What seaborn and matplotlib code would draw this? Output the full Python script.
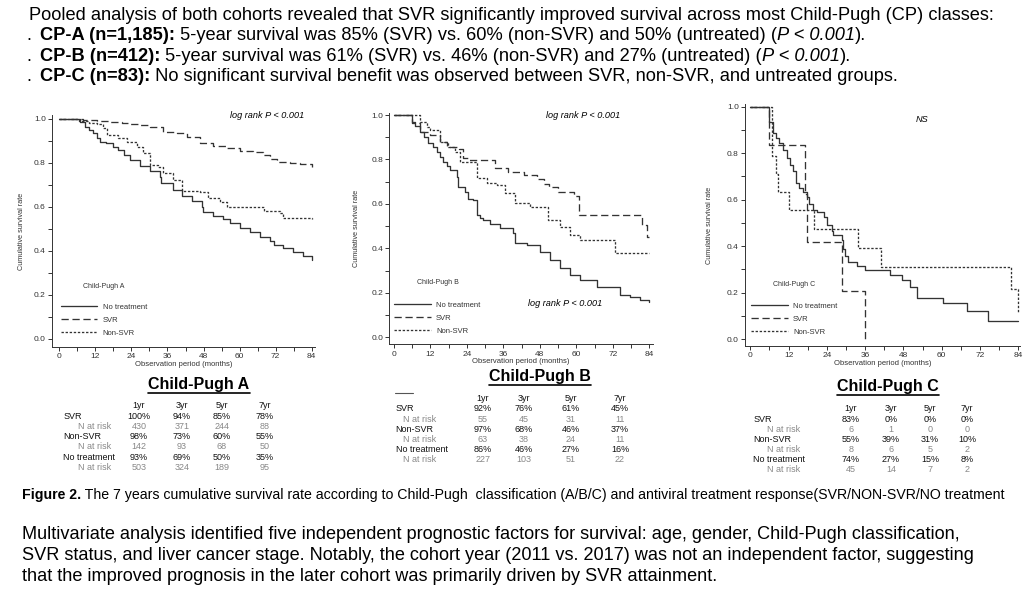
import numpy as np
import pandas as pd
import seaborn as sns
import matplotlib.pyplot as plt
from matplotlib.lines import Line2D
from matplotlib.ticker import MultipleLocator

# Kaplan-Meier step points (time in months, survival)
a_none_t = [0, 6.9, 8.5, 10, 11.3, 12.4, 13.5, 15.7, 18, 19.6, 21.5, 23.5, 26.9, 30.2, 33.5, 34,
            38, 40.7, 44, 47.4, 47.8, 51.3, 54.6, 56.8, 60.2, 63.5, 66.8, 70.1, 71.3, 74.6, 77.9, 81.2, 84]
a_none_s = [1.0, 0.985, 0.965, 0.95, 0.935, 0.912, 0.897, 0.889, 0.874, 0.859, 0.835, 0.813, 0.786, 0.763,
            0.737, 0.707, 0.677, 0.649, 0.627, 0.601, 0.578, 0.558, 0.545, 0.525, 0.504, 0.484, 0.464,
            0.446, 0.426, 0.411, 0.396, 0.376, 0.358]
a_svr_t = [0, 8, 12.4, 17, 21, 23.5, 27, 30.2, 34.6, 39.1, 42.4, 46.8, 51.3, 55.7, 60.2, 64.6, 67.9,
           70.1, 72.4, 76.8, 80.1, 84]
a_svr_s = [1.0, 0.995, 0.99, 0.985, 0.98, 0.977, 0.972, 0.965, 0.942, 0.935, 0.92, 0.892, 0.877, 0.866,
           0.856, 0.851, 0.836, 0.816, 0.806, 0.801, 0.795, 0.783]
a_non_t = [0, 6.5, 10, 12.4, 14.7, 15.8, 19.6, 22.4, 25.8, 28, 30.2, 33, 34.6, 38, 40.7, 46.8, 49.6,
           53.5, 55.7, 64.6, 68, 73.5, 74.6, 84]
a_non_s = [1.0, 0.99, 0.98, 0.975, 0.957, 0.927, 0.915, 0.897, 0.874, 0.847, 0.791, 0.783, 0.756, 0.722,
           0.674, 0.669, 0.639, 0.624, 0.601, 0.598, 0.581, 0.571, 0.548, 0.545]

b_none_t = [0, 5.8, 7, 8.6, 10, 11.3, 12.7, 14, 15, 16.2, 17.3, 18.4, 20.6, 21.2, 23.4, 24.5, 26.1,
            27.2, 28.3, 29.4, 31.6, 34.9, 39.3, 39.8, 43.6, 48, 51.3, 54.6, 57.9, 61.2, 66.7, 71.5,
            74.3, 77.6, 80.9, 84]
b_none_s = [1.0, 0.97, 0.95, 0.925, 0.9, 0.873, 0.855, 0.835, 0.81, 0.79, 0.77, 0.753, 0.72, 0.675,
            0.655, 0.622, 0.618, 0.55, 0.535, 0.528, 0.51, 0.49, 0.468, 0.423, 0.415, 0.385, 0.348,
            0.31, 0.28, 0.258, 0.228, 0.225, 0.19, 0.18, 0.166, 0.157]
b_svr_t = [0, 5.8, 8.6, 11.8, 15.1, 17.3, 21.5, 22.8, 24.5, 33.2, 37.6, 42.7, 47.1, 49.3, 51, 53.8,
           59.2, 60.9, 81.5, 83.1, 84]
b_svr_s = [1.0, 0.963, 0.925, 0.91, 0.88, 0.858, 0.846, 0.805, 0.798, 0.76, 0.745, 0.73, 0.71, 0.69,
           0.675, 0.655, 0.635, 0.55, 0.505, 0.453, 0.453]
b_non_t = [0, 8.6, 10.7, 11.8, 15.1, 17.9, 20.1, 21.7, 27.2, 30.5, 33.8, 36.5, 39.8, 44.7, 50.8, 54.6,
           57.9, 61.2, 72.7, 84]
b_non_s = [1.0, 0.97, 0.945, 0.933, 0.88, 0.858, 0.835, 0.79, 0.715, 0.693, 0.685, 0.648, 0.606, 0.588,
           0.528, 0.498, 0.46, 0.438, 0.378, 0.378]

c_none_t = [0, 6.0, 7.0, 8.0, 9.1, 10.1, 11.4, 12.4, 13.5, 14.3, 15.4, 16.6, 17.7, 18.5, 19.7, 20.8,
            23.1, 24.1, 25.5, 26.0, 28.6, 29.2, 29.7, 30.7, 33.3, 35.9, 43.8, 47.4, 50.0, 52.1, 60.5,
            67.8, 74.6, 84]
c_none_s = [1.0, 0.935, 0.888, 0.866, 0.842, 0.813, 0.778, 0.749, 0.723, 0.670, 0.649, 0.631, 0.613,
            0.580, 0.556, 0.546, 0.524, 0.489, 0.463, 0.449, 0.427, 0.389, 0.356, 0.330, 0.316, 0.297,
            0.275, 0.254, 0.225, 0.175, 0.153, 0.121, 0.078, 0.078]
c_svr_t = [0, 6.0, 17.1, 17.9, 28.6, 36]
c_svr_s = [1.0, 0.833, 0.625, 0.417, 0.208, 0.0]
c_non_t = [0, 6.8, 8.0, 8.8, 12.2, 20.0, 33.9, 40.9, 81.7, 83.8, 84]
c_non_s = [1.0, 0.789, 0.710, 0.634, 0.555, 0.473, 0.393, 0.311, 0.215, 0.110, 0.110]

# tables under the panels
years = ['1yr', '3yr', '5yr', '7yr']
groups = ['SVR', 'Non-SVR', 'No treatment']
a_pct = [[100, 94, 85, 78], [98, 73, 60, 55], [93, 69, 50, 35]]
a_risk = [[430, 371, 244, 88], [142, 93, 68, 50], [503, 324, 189, 95]]
b_pct = [[92, 76, 61, 45], [97, 68, 46, 37], [86, 46, 27, 16]]
b_risk = [[55, 45, 31, 11], [63, 38, 24, 11], [227, 103, 51, 22]]
c_pct = [[83, 0, 0, 0], [55, 39, 31, 10], [74, 27, 15, 8]]
c_risk = [[6, 1, 0, 0], [8, 6, 5, 2], [45, 14, 7, 2]]

sns.set_theme(style='ticks')
plt.rcParams['font.family'] = ['Liberation Sans', 'DejaVu Sans']

W, H = 1029, 599
fig = plt.figure(figsize=(W / 100, H / 100), dpi=100)
renderer = fig.canvas.get_renderer()


def ftext(x, y, s, **kw):
    return fig.text(x / W, 1 - y / H, s, **kw)


def runs(x, y, parts, size):
    # text pieces with mixed weight / style on one line, y is the visual middle
    yb = y + 0.26 * size * 100 / 72
    for s, weight, style in parts:
        t = ftext(x, yb, s, fontsize=size, fontweight=weight, fontstyle=style,
                  va='baseline', ha='left', color='black')
        x += t.get_window_extent(renderer).width


ink = '#333333'
line_styles = {'No treatment': '-', 'SVR': (0, (5.5, 2.8)), 'Non-SVR': (0, (1.8, 1.3))}

panels = [
    dict(box=(52, 115, 315, 347), x0=59.3, x84=311.7, y1=119, y0=338.7, name='Child-Pugh A',
         curves=[('No treatment', a_none_t, a_none_s), ('SVR', a_svr_t, a_svr_s), ('Non-SVR', a_non_t, a_non_s)],
         cp=(82.7, 286), leg=(60.7, 303.5), ylab=25, notes=[('log rank P < 0.001', 266.7, 115)]),
    dict(box=(389.3, 112.7, 653, 344.3), x0=394, x84=649.3, y1=115, y0=337.3, name='Child-Pugh B',
         curves=[('No treatment', b_none_t, b_none_s), ('SVR', b_svr_t, b_svr_s), ('Non-SVR', b_non_t, b_non_s)],
         cp=(417.3, 282.7), leg=(394, 301.5), ylab=360,
         notes=[('log rank P < 0.001', 583, 115), ('log rank P < 0.001', 565, 304)]),
    dict(box=(745, 104.3, 1020, 346), x0=750.3, x84=1018.3, y1=106.7, y0=339, name='Child-Pugh C',
         curves=[('No treatment', c_none_t, c_none_s), ('SVR', c_svr_t, c_svr_s), ('Non-SVR', c_non_t, c_non_s)],
         cp=(773.3, 284.3), leg=(751, 302.5), ylab=713, notes=[('NS', 922, 119)]),
]

for p in panels:
    l, t, r, b = p['box']
    ax = fig.add_axes([l / W, 1 - b / H, (r - l) / W, (b - t) / H])
    kx = (p['x84'] - p['x0']) / 84
    ky = p['y0'] - p['y1']
    ax.set_xlim((l - p['x0']) / kx, 84 + (r - p['x84']) / kx)
    ax.set_ylim((p['y0'] - b) / ky, 1 + (p['y1'] - t) / ky)
    for label, ts, ss in p['curves']:
        sns.lineplot(x=ts, y=ss, ax=ax, color=ink, lw=0.95, linestyle=line_styles[label],
                     drawstyle='steps-post', estimator=None, sort=False, label=label)
    ax.xaxis.set_major_locator(MultipleLocator(12))
    ax.xaxis.set_minor_locator(MultipleLocator(6))
    ax.yaxis.set_major_locator(MultipleLocator(0.2))
    ax.yaxis.set_minor_locator(MultipleLocator(0.1))
    ax.yaxis.set_major_formatter(lambda v, pos: f'{v:.1f}')
    ax.tick_params(which='both', length=3, width=0.7, color=ink, labelsize=6, labelcolor=ink, pad=1.5)
    for side in ['top', 'right']:
        ax.spines[side].set_visible(False)
    for side in ['left', 'bottom']:
        ax.spines[side].set_linewidth(0.7)
        ax.spines[side].set_color(ink)
    ax.set_facecolor('none')
    ax.set_xlabel('Observation period (months)', fontsize=5.5, color=ink, labelpad=0.5)
    ax.set_ylabel('Cumulative survival rate', fontsize=5.2, color=ink)
    ax.yaxis.set_label_coords((p['ylab'] - l) / (r - l), 0.5)
    ax.text((p['cp'][0] - l) / (r - l), (b - p['cp'][1]) / (b - t), p['name'], transform=ax.transAxes,
            fontsize=5, color=ink, ha='left', va='center')
    ax.legend(loc='upper left', bbox_to_anchor=((p['leg'][0] - l) / (r - l), (b - p['leg'][1]) / (b - t)),
              frameon=False, fontsize=5.5, handlelength=4.8, handletextpad=0.7, labelspacing=0.75,
              borderaxespad=0, borderpad=0, labelcolor=ink)
    for s, nx, ny in p['notes']:
        ftext(nx, ny, s, fontsize=6.6, style='italic', color='black', ha='center', va='center')

# survival tables
tables = [
    dict(title=('Child-Pugh A', 199, 385), head=405, rows=[416.7, 426.7, 436.7, 446.7, 457.3, 467.3],
         cols=[139, 182, 222, 265], lab=63.3, risk_lab=78.3, pct=a_pct, risk=a_risk),
    dict(title=('Child-Pugh B', 540, 376.7), head=398.3, rows=[408.3, 419, 429, 439, 449.3, 460],
         cols=[483, 524, 571, 620], lab=395.7, risk_lab=403.3, pct=b_pct, risk=b_risk),
    dict(title=('Child-Pugh C', 888.3, 386.7), head=408.3, rows=[419.3, 429.3, 439.3, 449.3, 459.3, 469.3],
         cols=[851, 891, 930, 967], lab=753.3, risk_lab=766.7, pct=c_pct, risk=c_risk),
]
for tb in tables:
    name, tx, ty = tb['title']
    tt = ftext(tx, ty, name, fontsize=11.5, fontweight='bold', ha='center', va='center', color='black')
    bb = tt.get_window_extent(renderer)
    uy = bb.y0 - 0.5
    fig.add_artist(Line2D([bb.x0 / W, bb.x1 / W], [uy / H, uy / H], color='black', lw=1.2))
    for yr, cx in zip(years, tb['cols']):
        ftext(cx, tb['head'], yr, fontsize=6.5, ha='center', va='center', color='#111111')
    for i, g in enumerate(groups):
        ftext(tb['lab'], tb['rows'][2 * i], g, fontsize=6.5, ha='left', va='center', color='#111111')
        ftext(tb['risk_lab'], tb['rows'][2 * i + 1], 'N at risk', fontsize=6.5, ha='left', va='center',
              color='#888888')
        for j, cx in enumerate(tb['cols']):
            ftext(cx, tb['rows'][2 * i], f"{tb['pct'][i][j]}%", fontsize=6.5, ha='center', va='center',
                  color='#111111')
            ftext(cx, tb['rows'][2 * i + 1], str(tb['risk'][i][j]), fontsize=6.5, ha='center',
                  va='center', color='#888888')

fig.add_artist(Line2D([395 / W, 413 / W], [1 - 393 / H, 1 - 393 / H], color='#555555', lw=0.8))

# text above and below the figure
size = 13.15
runs(29, 15, [('Pooled analysis of both cohorts revealed that SVR significantly improved survival '
               'across most Child-Pugh (CP) classes:', 'normal', 'normal')], size)
bullets = [
    [('CP-A (n=1,185):', 'bold', 'normal'),
     (' 5-year survival was 85% (SVR) vs. 60% (non-SVR) and 50% (untreated) (', 'normal', 'normal'),
     ('P < 0.001', 'normal', 'italic'), (').', 'normal', 'normal')],
    [('CP-B (n=412):', 'bold', 'normal'),
     (' 5-year survival was 61% (SVR) vs. 46% (non-SVR) and 27% (untreated) (', 'normal', 'normal'),
     ('P < 0.001', 'normal', 'italic'), (').', 'normal', 'normal')],
    [('CP-C (n=83):', 'bold', 'normal'),
     (' No significant survival benefit was observed between SVR, non-SVR, and untreated groups.',
      'normal', 'normal')],
]
for k, parts in enumerate(bullets):
    y = 35.5 + 20.5 * k
    runs(26, y, [('.', 'normal', 'normal')], size)
    runs(40, y, parts, size)

runs(22, 495, [('Figure 2.', 'bold', 'normal'),
               (' The 7 years cumulative survival rate according to Child-Pugh  classification (A/B/C) '
                'and antiviral treatment response(SVR/NON-SVR/NO treatment', 'normal', 'normal')], 10.15)

para = ['Multivariate analysis identified five independent prognostic factors for survival: age, gender, '
        'Child-Pugh classification,',
        'SVR status, and liver cancer stage. Notably, the cohort year (2011 vs. 2017) was not an '
        'independent factor, suggesting',
        'that the improved prognosis in the later cohort was primarily driven by SVR attainment.']
for k, s in enumerate(para):
    runs(22, 534 + 21 * k, [(s, 'normal', 'normal')], 13.1)

fig.savefig('out.png', dpi=100)
